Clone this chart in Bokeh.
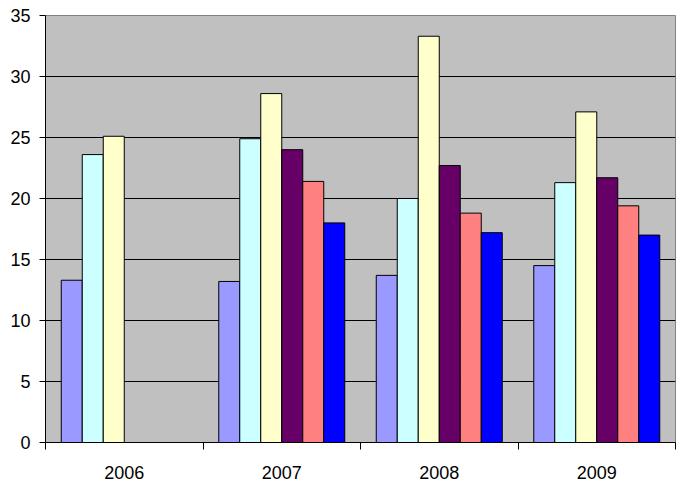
from bokeh.plotting import figure
from bokeh.models import Range1d, FixedTicker, ColumnDataSource
from bokeh.embed import file_html
from bokeh.resources import INLINE

years = ["2006", "2007", "2008", "2009"]
series_a = [13.3, 13.2, 13.7, 14.5]
series_b = [23.6, 24.9, 20.0, 21.3]
series_c = [25.1, 28.6, 33.3, 27.1]
series_d = [None, 24.0, 22.7, 21.7]
series_e = [None, 21.4, 18.8, 19.4]
series_f = [None, 18.0, 17.2, 17.0]
colors = ["#9999FF", "#CCFFFF", "#FFFFCC", "#660066", "#FF8080", "#0000FF"]
y_ticks = [0, 5, 10, 15, 20, 25, 30, 35]

all_series = [series_a, series_b, series_c, series_d, series_e, series_f]
n = len(all_series)
gap = 1.5
bw = 1.0 / (n + gap)

p = figure(width=681, height=484, output_backend="svg", toolbar_location=None,
           x_range=Range1d(0, len(years)), y_range=Range1d(0, 35),
           min_border_left=45, min_border_right=6, min_border_top=15, min_border_bottom=42)

p.background_fill_color = "#C0C0C0"
p.border_fill_color = "white"
p.outline_line_color = "#808080"
p.outline_line_width = 1

for si, (vals, col) in enumerate(zip(all_series, colors)):
    xs, tops = [], []
    for ci, v in enumerate(vals):
        if v is None:
            continue
        xs.append(ci + 0.5 + (si - (n - 1) / 2) * bw)
        tops.append(v)
    src = ColumnDataSource(dict(x=xs, top=tops))
    p.vbar(x="x", top="top", bottom=0, width=bw, source=src,
           fill_color=col, line_color="black", line_width=1)

font = "Liberation Sans"
fs = "18px"

# y axis
p.yaxis.ticker = FixedTicker(ticks=y_ticks)
p.yaxis.axis_line_color = "black"
p.yaxis.major_tick_line_color = "black"
p.yaxis.major_tick_out = 6
p.yaxis.major_tick_in = 0
p.yaxis.minor_tick_line_color = None
p.yaxis.major_label_text_font = font
p.yaxis.major_label_text_font_size = fs
p.yaxis.major_label_text_color = "black"
p.yaxis.major_label_standoff = 9

# x axis: labels at category centres, ticks at boundaries
centers = [i + 0.5 for i in range(len(years))]
bounds = [float(i) for i in range(len(years) + 1)]
p.xaxis.ticker = FixedTicker(ticks=centers, minor_ticks=bounds)
p.xaxis.major_label_overrides = {c: y for c, y in zip(centers, years)}
p.xaxis.major_tick_line_color = None
p.xaxis.minor_tick_line_color = "black"
p.xaxis.minor_tick_out = 7
p.xaxis.minor_tick_in = 0
p.xaxis.axis_line_color = "black"
p.xaxis.major_label_text_font = font
p.xaxis.major_label_text_font_size = fs
p.xaxis.major_label_text_color = "black"
p.xaxis.major_label_standoff = 16

p.xgrid.grid_line_color = None
p.ygrid.ticker = FixedTicker(ticks=y_ticks)
p.ygrid.grid_line_color = "black"
p.ygrid.grid_line_width = 1

open("out.html", "w").write(file_html(p, INLINE))
